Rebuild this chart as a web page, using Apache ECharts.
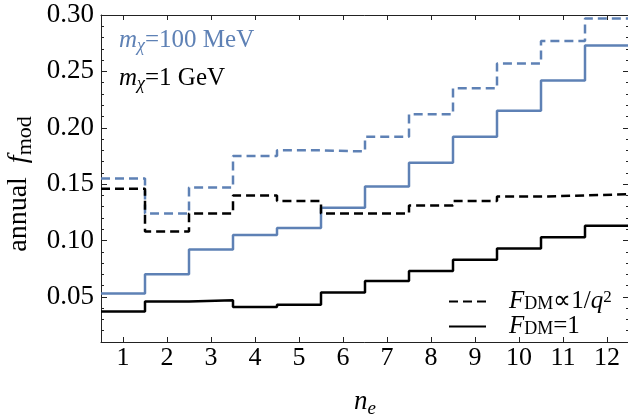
<!DOCTYPE html>
<html>
<head>
<meta charset="utf-8">
<script src="https://cdn.jsdelivr.net/npm/echarts@6/dist/echarts.min.js"></script>
<style>
  html, body { margin: 0; padding: 0; background: #fff; }
  #chart { width: 628px; height: 418px; }
</style>
</head>
<body>
<div id="chart"></div>
<script>
// n_e bins
const ne = [1, 2, 3, 4, 5, 6, 7, 8, 9, 10, 11, 12];
// m_chi = 100 MeV
const mev100Flat = [0.053, 0.070, 0.092, 0.105, 0.111, 0.129, 0.148, 0.169, 0.192, 0.215, 0.242, 0.273];
const mev100Q2 = [0.155, 0.124, 0.147, 0.175, 0.180, 0.179, 0.192, 0.212, 0.235, 0.257, 0.277, 0.297];
// m_chi = 1 GeV
const gev1Q2 = [0.146, 0.108, 0.124, 0.140, 0.135, 0.124, 0.124, 0.131, 0.135, 0.139, 0.140, 0.141];
const gev1Flat = [0.037, 0.046, 0.047, 0.041, 0.043, 0.054, 0.064, 0.073, 0.083, 0.093, 0.103, 0.113];
const yMajor = [0.05, 0.10, 0.15, 0.20, 0.25, 0.30];

const BLUE = '#5e81b5'
const FONT = 'Liberation Serif'
const DASH = [9, 5]

// bin edges for a histogram-like step line
function steps(vals) {
  const pts = ne.map((n, i) => [n - 0.5, vals[i]])
  pts.push([ne[ne.length - 1] + 0.5, vals[vals.length - 1]])
  return pts
}

function makeRich(size, sub, lh) {
  return {
    i: { fontFamily: FONT, fontSize: size, fontStyle: 'italic', lineHeight: lh },
    t: { fontFamily: FONT, fontSize: size, lineHeight: lh },
    s: { fontFamily: FONT, fontSize: sub, lineHeight: sub, verticalAlign: 'bottom' },
    si: { fontFamily: FONT, fontSize: sub, fontStyle: 'italic', lineHeight: sub, verticalAlign: 'bottom' },
    sup: { fontFamily: FONT, fontSize: sub - 1, lineHeight: sub - 1, verticalAlign: 'top' },
    g: { width: 18, lineHeight: lh },
    g2: { width: 11, lineHeight: lh }
  }
}
const rich = makeRich(25, 18, 30)
const nameRich = makeRich(28, 22, 34)
const legendRich = makeRich(25, 18, 24)

function stepLine(name, vals, color, dashed) {
  return {
    name: name,
    type: 'line',
    step: 'end',
    showSymbol: false,
    symbol: 'none',
    lineStyle: { color: color, width: 2.5, type: dashed ? DASH : 'solid' },
    data: steps(vals)
  }
}

const tickStyle = { color: '#222', width: 1 }
const frameLine = { show: true, lineStyle: { color: '#222', width: 1 } }

const chart = echarts.init(document.getElementById('chart'))
const option = {
  animation: false,
  grid: { left: 101, top: 15, width: 528, height: 327, containLabel: false, outerBoundsMode: 'none' },
  xAxis: [{
    type: 'value',
    min: 0.5,
    max: 12.5,
    position: 'bottom',
    axisLine: frameLine,
    axisTick: { inside: true, length: 5, lineStyle: tickStyle, customValues: ne },
    axisLabel: { customValues: ne, margin: 3, color: '#000', fontFamily: FONT, fontSize: 26 },
    splitLine: { show: false },
    name: '{i|n}{si|e}',
    nameLocation: 'middle',
    nameGap: 44,
    nameTextStyle: { color: '#000', rich: makeRich(27, 19, 32) }
  }, {
    type: 'value',
    min: 0.5,
    max: 12.5,
    position: 'top',
    axisLine: frameLine,
    axisTick: { inside: true, length: 5, lineStyle: tickStyle, customValues: ne },
    axisLabel: { show: false },
    splitLine: { show: false }
  }],
  yAxis: [{
    type: 'value',
    min: 0.01,
    max: 0.30,
    position: 'left',
    axisLine: frameLine,
    axisTick: { inside: true, length: 6, lineStyle: tickStyle, customValues: yMajor },
    axisLabel: {
      customValues: yMajor, margin: 7, color: '#000', fontFamily: FONT, fontSize: 27,
      formatter: v => v.toFixed(2)
    },
    splitLine: { show: false },
    name: '{t|annual  }{i|f}{s|mod}{g2| }',
    nameLocation: 'middle',
    nameGap: 64,
    nameTextStyle: { color: '#000', rich: nameRich }
  }, {
    type: 'value',
    min: 0.01,
    max: 0.30,
    interval: 0.01,
    position: 'left',
    axisLine: { show: false },
    axisTick: { inside: true, length: 3, lineStyle: tickStyle },
    axisLabel: { show: false },
    splitLine: { show: false }
  }, {
    type: 'value',
    min: 0.01,
    max: 0.30,
    position: 'right',
    axisLine: frameLine,
    axisTick: { inside: true, length: 6, lineStyle: tickStyle, customValues: yMajor },
    axisLabel: { show: false },
    splitLine: { show: false }
  }, {
    type: 'value',
    min: 0.01,
    max: 0.30,
    interval: 0.01,
    position: 'right',
    axisLine: { show: false },
    axisTick: { inside: true, length: 3, lineStyle: tickStyle },
    axisLabel: { show: false },
    splitLine: { show: false }
  }],
  legend: {
    left: 448,
    top: 289,
    orient: 'vertical',
    padding: 0,
    itemGap: 0,
    itemWidth: 37,
    itemHeight: 24,
    selectedMode: false,
    itemStyle: { opacity: 0 },
    textStyle: { color: '#000', rich: legendRich },
    formatter: name => name === 'q2'
      ? '{g| }{i|F}{s|DM}{t|∝1/}{i|q}{sup|2}'
      : '{g| }{i|F}{s|DM}{t|=1}',
    data: ['q2', 'flat']
  },
  graphic: [{
    type: 'text',
    left: 119,
    top: 28,
    style: {
      text: '{i|m}{si|χ}{t|=100 MeV}',
      fill: BLUE,
      rich: rich
    }
  }, {
    type: 'text',
    left: 119,
    top: 66,
    style: {
      text: '{i|m}{si|χ}{t|=1 GeV}',
      fill: '#000',
      rich: rich
    }
  }],
  series: [
    stepLine('mev100Flat', mev100Flat, BLUE, false),
    stepLine('mev100Q2', mev100Q2, BLUE, true),
    stepLine('gev1Flat', gev1Flat, '#000', false),
    stepLine('gev1Q2', gev1Q2, '#000', true),
    { name: 'q2', type: 'line', symbol: 'none', color: '#000', lineStyle: { color: '#000', width: 2.5, type: DASH }, data: [] },
    { name: 'flat', type: 'line', symbol: 'none', color: '#000', lineStyle: { color: '#000', width: 2.5 }, data: [] }
  ]
}
chart.setOption(option)
</script>
</body>
</html>
